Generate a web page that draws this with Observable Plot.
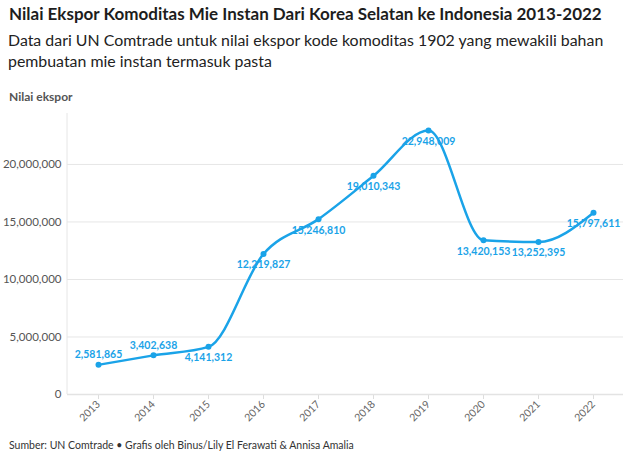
<!DOCTYPE html>
<html>
<head>
<meta charset="utf-8">
<script src="https://cdn.jsdelivr.net/npm/d3@7"></script>
<script src="https://cdn.jsdelivr.net/npm/@observablehq/plot@0.6"></script>
<style>
  body { margin: 0; background: #fff; font-family: Lato, "Noto Sans", sans-serif; color: #222; }
  #wrap { width: 640px; height: 462px; }
  .title { padding: 3px 0 0 9px; height: 26px; font-size: 17px; line-height: 22px; font-weight: 700; color: #1d1d1d; white-space: nowrap; }
  .sub { padding-left: 8px; width: 625px; height: 60px; font-size: 15.9px; line-height: 21px; color: #222; }
  .ylab { padding-left: 9px; height: 16px; font-size: 12px; line-height: 16px; font-weight: 700; color: #555; }
  #chart { height: 329px; }
  .foot { padding: 5px 0 0 9px; font-size: 10.5px; color: #333; white-space: nowrap; }
</style>
</head>
<body>
<div id="wrap">
  <div class="title">Nilai Ekspor Komoditas Mie Instan Dari Korea Selatan ke Indonesia 2013-2022</div>
  <div class="sub">Data dari UN Comtrade untuk nilai ekspor kode komoditas 1902 yang mewakili bahan pembuatan mie instan termasuk pasta</div>
  <div class="ylab">Nilai ekspor</div>
  <div id="chart"></div>
  <div class="foot">Sumber: UN Comtrade • Grafis oleh Binus/Lily El Ferawati &amp; Annisa Amalia</div>
</div>
<script>
const years = ["2013","2014","2015","2016","2017","2018","2019","2020","2021","2022"];
const values = [2581865, 3402638, 4141312, 12219827, 15246810, 19010343, 22948009, 13420153, 13252395, 15797611];
const labelSide = ["above","above","below","below","below","below","below","below","below","below"];
const yTicks = [0, 5000000, 10000000, 15000000, 20000000];

const data = years.map((y, i) => ({year: y, value: values[i], side: labelSide[i]}));
const blue = "#1aa3e8";
const fmt = d3.format(",");

const chart = Plot.plot({
  width: 640,
  height: 329,
  marginTop: 8,
  marginBottom: 40,
  marginLeft: 67,
  marginRight: 17,
  style: {fontFamily: "Lato, 'Noto Sans', sans-serif", fontSize: "11px", color: "#555", background: "transparent"},
  x: {type: "point", domain: years, padding: 0.5, label: null},
  y: {domain: [0, 24430000], label: null},
  marks: [
    Plot.gridY(yTicks, {stroke: "#e6e6e6", strokeOpacity: 1, strokeWidth: 1}),
    Plot.axisY(yTicks, {tickSize: 0, tickPadding: 6, tickFormat: fmt, fill: "#555", fontSize: 11.5}),
    Plot.axisX({tickSize: 5, tickRotate: -45, stroke: "#ddd", fill: "#666", fontSize: 10.5, tickPadding: 3}),
    Plot.ruleY([0], {stroke: "#e3e3e3", strokeWidth: 1.5}),
    Plot.lineY(data, {x: "year", y: "value", stroke: blue, strokeWidth: 2.5, curve: "monotone-x"}),
    Plot.dot(data, {x: "year", y: "value", r: 3, fill: blue}),
    Plot.text(data.filter(d => d.side === "above"), {x: "year", y: "value", text: d => fmt(d.value), dy: -10, fill: blue, fontWeight: 700, fontSize: 10.5}),
    Plot.text(data.filter(d => d.side === "below"), {x: "year", y: "value", text: d => fmt(d.value), dy: 11, fill: blue, fontWeight: 700, fontSize: 10.5})
  ]
});
document.getElementById("chart").appendChild(chart);
d3.select(chart).insert("line", ":first-child")
  .attr("x1", 67).attr("x2", 67).attr("y1", 8).attr("y2", 289)
  .attr("stroke", "#e6e6e6");
</script>
</body>
</html>
